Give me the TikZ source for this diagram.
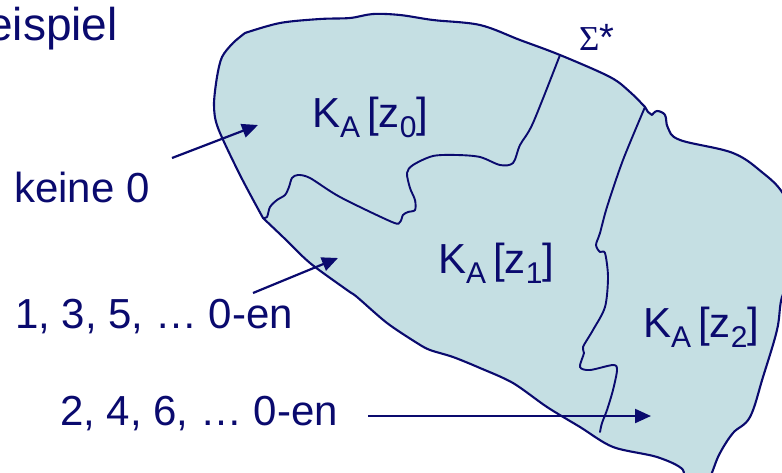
\documentclass[tikz,border=0pt]{standalone}
\usepackage{fontspec}
\setmainfont{Liberation Sans}
\newfontfamily\serifsig{Liberation Serif}
\usetikzlibrary{arrows.meta}
\definecolor{navy}{HTML}{0A0A6E}
\definecolor{blobfill}{HTML}{C5DFE3}
\newcommand\sbx[1]{\raisebox{-10pt}{\fontsize{30}{30}\selectfont #1}}
\begin{document}
\begin{tikzpicture}[x=1pt,y=-1pt,
  outline/.style={draw=navy,line width=2.1pt,line join=round},
  border/.style={draw=navy,line width=1.9pt,line cap=round,line join=round},
  arr/.style={draw=navy,line width=2.2pt,-{Triangle[length=16pt,width=14pt]}},
  lbl/.style={text=navy,inner sep=0pt,anchor=base west,font=\fontsize{42}{42}\selectfont}]
\useasboundingbox (0,0) rectangle (782,472);
\clip (0,0) rectangle (782,472);
% blob
\path[outline,fill=blobfill]
  plot[smooth,tension=0.55] coordinates {(245,33) (280,23) (320,19) (350,18) (373,14) (400,15) (433,20) (480,25) (520,40) (560,55) (610,77) (630,92) (645,107)}
  -- (648,112) -- (652,115)
  -- plot[smooth,tension=0.6] coordinates {(652,115) (657,111) (665,115) (668,128) (680,140) (733,153) (763,173) (782,192) (795,220) (795,270) (782,297) (777,330) (763,377) (750,417) (733,433) (720,453) (713,470) (706,490)}
  -- (680,490)
  -- plot[smooth,tension=0.5] coordinates {(680,490) (683,470) (657,457) (613,447) (580,427) (547,407) (513,383) (480,368) (453,357) (430,350) (417,343) (387,323) (357,297) (347,290) (310,263) (283,237) (263,218)}
  -- plot[smooth,tension=0.5] coordinates {(263,218) (240,175) (218,128) (214,105) (217,77) (222,57) (233,43) (245,33)}
  -- cycle;
% inner borders
\draw[border] plot[smooth,tension=0.5] coordinates {(263,218) (267,217) (270,207) (277,200) (285,195) (289,187) (292,178) (298,175) (310,178) (340,197) (392,222) (400,222) (403,215) (408,212) (415,210) (415,200) (410,188) (407,173) (413,165) (433,156) (457,155) (480,157) (500,165) (513,163) (520,145) (533,123) (560,55)};
\draw[border] plot[smooth,tension=0.5] coordinates {(645,107) (623,160) (607,207) (600,233) (596,245) (600,252) (605,253) (608,277) (605,307) (593,330) (583,347) (584,353) (580,367) (590,370) (613,365) (617,370) (613,390) (607,410) (602,423) (600,432)};
% labels
\node[lbl] (z0) at (312,127) {K\sbx{A}\,[z\sbx{0}]};
\node[lbl] (z1) at (438,273) {K\sbx{A}\,[z\sbx{1}]};
\node[lbl] (z2) at (643,337) {K\sbx{A}\,[z\sbx{2}]};
\node[lbl,font=\fontsize{35}{35}\selectfont] (sig) at (579,50) {{\serifsig Σ}{\fontsize{38}{38}\selectfont *}};
\node[lbl,anchor=base east,font=\fontsize{46}{46}\selectfont] (title) at (118,40) {eispiel};
\node[lbl] (t0) at (14,202) {keine 0};
\node[lbl] (t1) at (15,328) {1, 3, 5, … 0-en};
\node[lbl] (t2) at (60,425) {2, 4, 6, … 0-en};
% arrows
\coordinate (a0s) at (172,158); \coordinate (a0e) at (258,125);
\coordinate (a1s) at (253,293); \coordinate (a1e) at (338,258);
\coordinate (a2s) at (368,416); \coordinate (a2e) at (651,416);
\draw[arr] (a0s) -- (a0e);
\draw[arr] (a1s) -- (a1e);
\draw[arr] (a2s) -- (a2e);
\end{tikzpicture}
\end{document}
